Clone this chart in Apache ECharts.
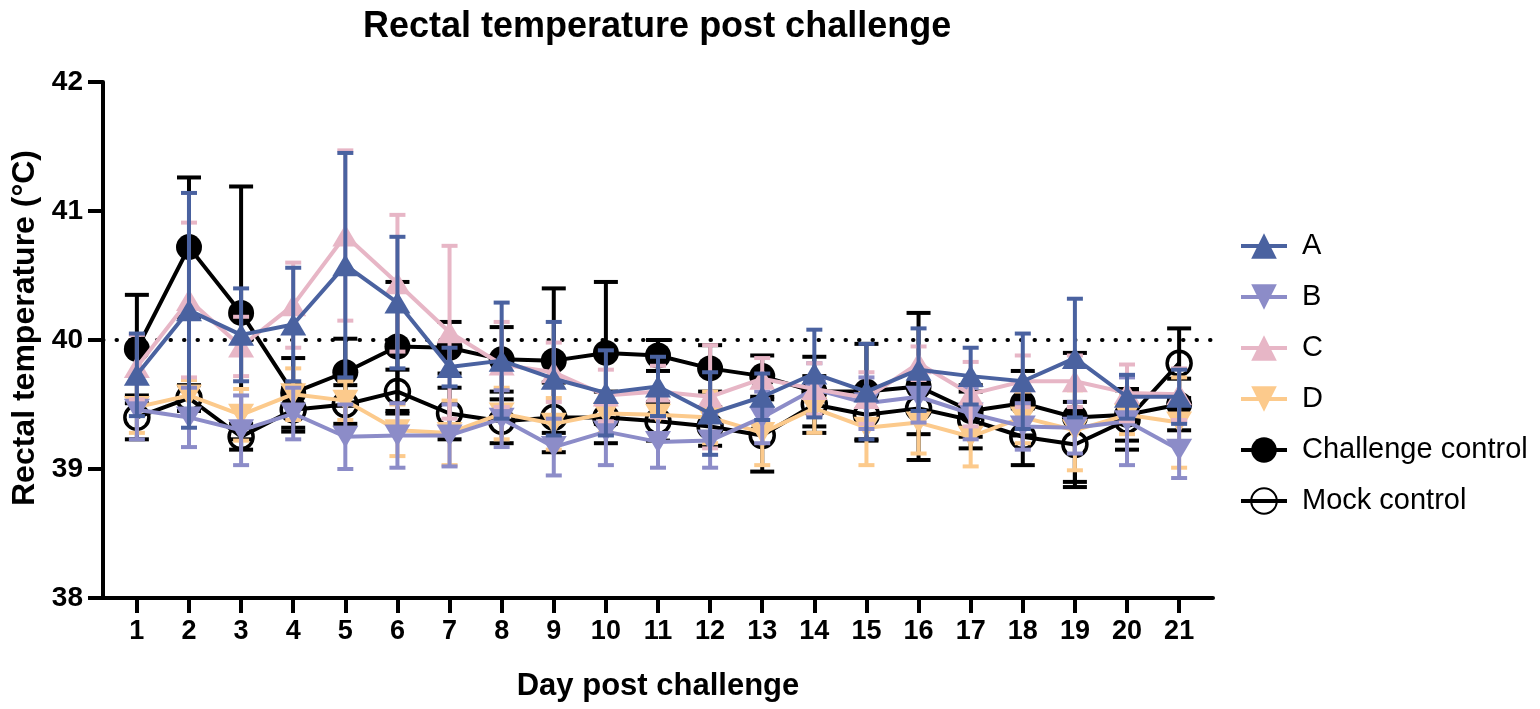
<!DOCTYPE html>
<html>
<head>
<meta charset="utf-8">
<script src="https://cdn.jsdelivr.net/npm/echarts@6/dist/echarts.min.js"></script>
<style>
  html, body { margin: 0; padding: 0; background: #fff; }
  #chart { width: 1540px; height: 709px; }
</style>
</head>
<body>
<div id="chart"></div>
<script>
// days post challenge
const days = [1, 2, 3, 4, 5, 6, 7, 8, 9, 10, 11, 12, 13, 14, 15, 16, 17, 18, 19, 20, 21];
const yTicks = [38, 39, 40, 41, 42];

// group means and SD
const aMean = [39.73, 40.23, 40.04, 40.12, 40.58, 40.29, 39.79, 39.84, 39.70, 39.59, 39.64, 39.43, 39.56, 39.74, 39.60, 39.77, 39.72, 39.68, 39.86, 39.56, 39.56];
const aSd = [0.32, 0.91, 0.36, 0.44, 0.87, 0.51, 0.15, 0.45, 0.44, 0.33, 0.23, 0.32, 0.18, 0.34, 0.37, 0.32, 0.22, 0.37, 0.46, 0.17, 0.21];

const bMean = [39.46, 39.40, 39.30, 39.43, 39.25, 39.26, 39.26, 39.39, 39.17, 39.29, 39.21, 39.22, 39.40, 39.62, 39.51, 39.56, 39.43, 39.33, 39.32, 39.37, 39.15];
const bSd = [0.23, 0.23, 0.27, 0.20, 0.25, 0.25, 0.24, 0.22, 0.22, 0.26, 0.20, 0.21, 0.20, 0.20, 0.20, 0.20, 0.20, 0.18, 0.20, 0.34, 0.22];

const cMean = [39.79, 40.31, 39.95, 40.27, 40.81, 40.44, 40.06, 39.81, 39.75, 39.57, 39.60, 39.56, 39.70, 39.62, 39.55, 39.82, 39.58, 39.68, 39.68, 39.59, 39.58];
const cSd = [0.25, 0.60, 0.23, 0.33, 0.66, 0.53, 0.67, 0.33, 0.23, 0.20, 0.20, 0.40, 0.16, 0.20, 0.20, 0.13, 0.25, 0.20, 0.20, 0.22, 0.20];

const dMean = [39.48, 39.57, 39.42, 39.58, 39.53, 39.30, 39.28, 39.43, 39.35, 39.43, 39.42, 39.40, 39.28, 39.47, 39.32, 39.36, 39.25, 39.40, 39.30, 39.42, 39.36];
const dSd = [0.20, 0.12, 0.20, 0.20, 0.15, 0.20, 0.25, 0.20, 0.20, 0.15, 0.15, 0.20, 0.25, 0.19, 0.29, 0.24, 0.23, 0.20, 0.31, 0.15, 0.35];

const chalMean = [39.93, 40.72, 40.21, 39.59, 39.75, 39.95, 39.94, 39.85, 39.84, 39.90, 39.88, 39.78, 39.72, 39.60, 39.60, 39.64, 39.45, 39.51, 39.40, 39.42, 39.50];
const chalSd = [0.42, 0.54, 0.98, 0.27, 0.26, 0.50, 0.20, 0.25, 0.56, 0.55, 0.12, 0.18, 0.16, 0.27, 0.37, 0.57, 0.20, 0.25, 0.50, 0.20, 0.20];

const mockMean = [39.40, 39.55, 39.25, 39.46, 39.50, 39.60, 39.43, 39.37, 39.40, 39.40, 39.37, 39.33, 39.26, 39.50, 39.42, 39.47, 39.38, 39.25, 39.19, 39.38, 39.82];
const mockSd = [0.17, 0.10, 0.10, 0.17, 0.15, 0.17, 0.20, 0.17, 0.27, 0.20, 0.15, 0.15, 0.28, 0.22, 0.20, 0.20, 0.22, 0.22, 0.33, 0.23, 0.27];

const threshold = 40;

const downTri = 'path://M0,0L2,0L1,1.732Z';
const font = 'Liberation Sans, Arial, Helvetica, sans-serif';

// drawn bottom to top
const groups = [
  { name: 'Mock control', mean: mockMean, sd: mockSd, color: '#000', symbol: 'circle', size: 24, hollow: true, cap: 12, z: 2 },
  { name: 'Challenge control', mean: chalMean, sd: chalSd, color: '#000', symbol: 'circle', size: 26, cap: 12, z: 3 },
  { name: 'D', mean: dMean, sd: dSd, color: '#fcca8c', symbol: downTri, size: [26, 22], cap: 8, z: 4 },
  { name: 'B', mean: bMean, sd: bSd, color: '#8c8cc8', symbol: downTri, size: [26, 22], cap: 8, z: 5 },
  { name: 'C', mean: cMean, sd: cSd, color: '#e7b6c6', symbol: 'triangle', size: [26, 22], cap: 8, z: 6 },
  { name: 'A', mean: aMean, sd: aSd, color: '#4a62a0', symbol: 'triangle', size: [26, 22], cap: 8, z: 7 }
];

const legendOrder = ['A', 'B', 'C', 'D', 'Challenge control', 'Mock control'];

function errorBars(g) {
  return {
    name: g.name + ' SD',
    type: 'custom',
    z: g.z,
    silent: true,
    data: days.map((d, i) => [d, g.mean[i] - g.sd[i], g.mean[i] + g.sd[i]]),
    renderItem: function (params, api) {
      const top = api.coord([api.value(0), api.value(2)]);
      const bot = api.coord([api.value(0), api.value(1)]);
      const st = { stroke: g.color, lineWidth: 4 };
      const w = g.cap;
      return {
        type: 'group',
        children: [
          { type: 'line', shape: { x1: top[0], y1: top[1], x2: bot[0], y2: bot[1] }, style: st },
          { type: 'line', shape: { x1: top[0] - w, y1: top[1], x2: top[0] + w, y2: top[1] }, style: st },
          { type: 'line', shape: { x1: bot[0] - w, y1: bot[1], x2: bot[0] + w, y2: bot[1] }, style: st }
        ]
      };
    }
  };
}

const series = [];
groups.forEach(g => {
  series.push(errorBars(g));
  series.push({
    name: g.name,
    type: 'line',
    z: g.z,
    data: days.map((d, i) => [d, g.mean[i]]),
    symbol: g.symbol,
    symbolSize: g.size,
    lineStyle: { color: g.color, width: 4 },
    itemStyle: g.hollow
      ? { color: 'rgba(255,255,255,0)', borderColor: g.color, borderWidth: 3.5 }
      : { color: g.color, borderWidth: 0 }
  });
});

// dotted reference line at 40
series[1].markLine = {
  silent: true,
  symbol: 'none',
  label: { show: false },
  lineStyle: { color: '#000', width: 4, type: [0.5, 13], cap: 'round' },
  data: [{ yAxis: threshold }]
};

const chart = echarts.init(document.getElementById('chart'));
chart.setOption({
  animation: false,
  backgroundColor: '#fff',
  title: {
    text: 'Rectal temperature post challenge',
    left: 358,
    top: 4,
    textStyle: { fontFamily: font, fontWeight: 'bold', fontSize: 36, color: '#000' }
  },
  legend: {
    data: legendOrder,
    orient: 'vertical',
    left: 1234,
    top: 224,
    itemWidth: 46,
    itemHeight: 32,
    itemGap: 17,
    lineStyle: { width: 4 },
    textStyle: { fontFamily: font, fontSize: 29, color: '#000', padding: [0, 0, 0, 10], lineHeight: 34 }
  },
  grid: { left: 103, right: 327, top: 82, bottom: 111, outerBoundsMode: 'none', containLabel: false },
  xAxis: {
    type: 'value',
    min: 0.35,
    max: 21.65,
    name: 'Day post challenge',
    nameLocation: 'middle',
    nameGap: 73,
    nameTextStyle: { fontFamily: font, fontWeight: 'bold', fontSize: 31, color: '#000' },
    axisLine: { lineStyle: { color: '#000', width: 4 } },
    axisTick: { customValues: days, length: 15, lineStyle: { color: '#000', width: 4 } },
    axisLabel: { customValues: days, margin: 20, fontFamily: font, fontWeight: 'bold', fontSize: 27, color: '#000' },
    splitLine: { show: false }
  },
  yAxis: {
    type: 'value',
    min: yTicks[0],
    max: yTicks[yTicks.length - 1],
    interval: 1,
    name: 'Rectal temperature (°C)',
    nameLocation: 'middle',
    nameGap: 56,
    nameTextStyle: { fontFamily: font, fontWeight: 'bold', fontSize: 32, color: '#000', padding: [0, 0, 0, 24] },
    axisLine: { show: true, lineStyle: { color: '#000', width: 4 } },
    axisTick: { show: true, length: 15, lineStyle: { color: '#000', width: 4 } },
    axisLabel: { margin: 20, fontFamily: font, fontWeight: 'bold', fontSize: 28, color: '#000' },
    splitLine: { show: false }
  },
  series: series
});
</script>
</body>
</html>
